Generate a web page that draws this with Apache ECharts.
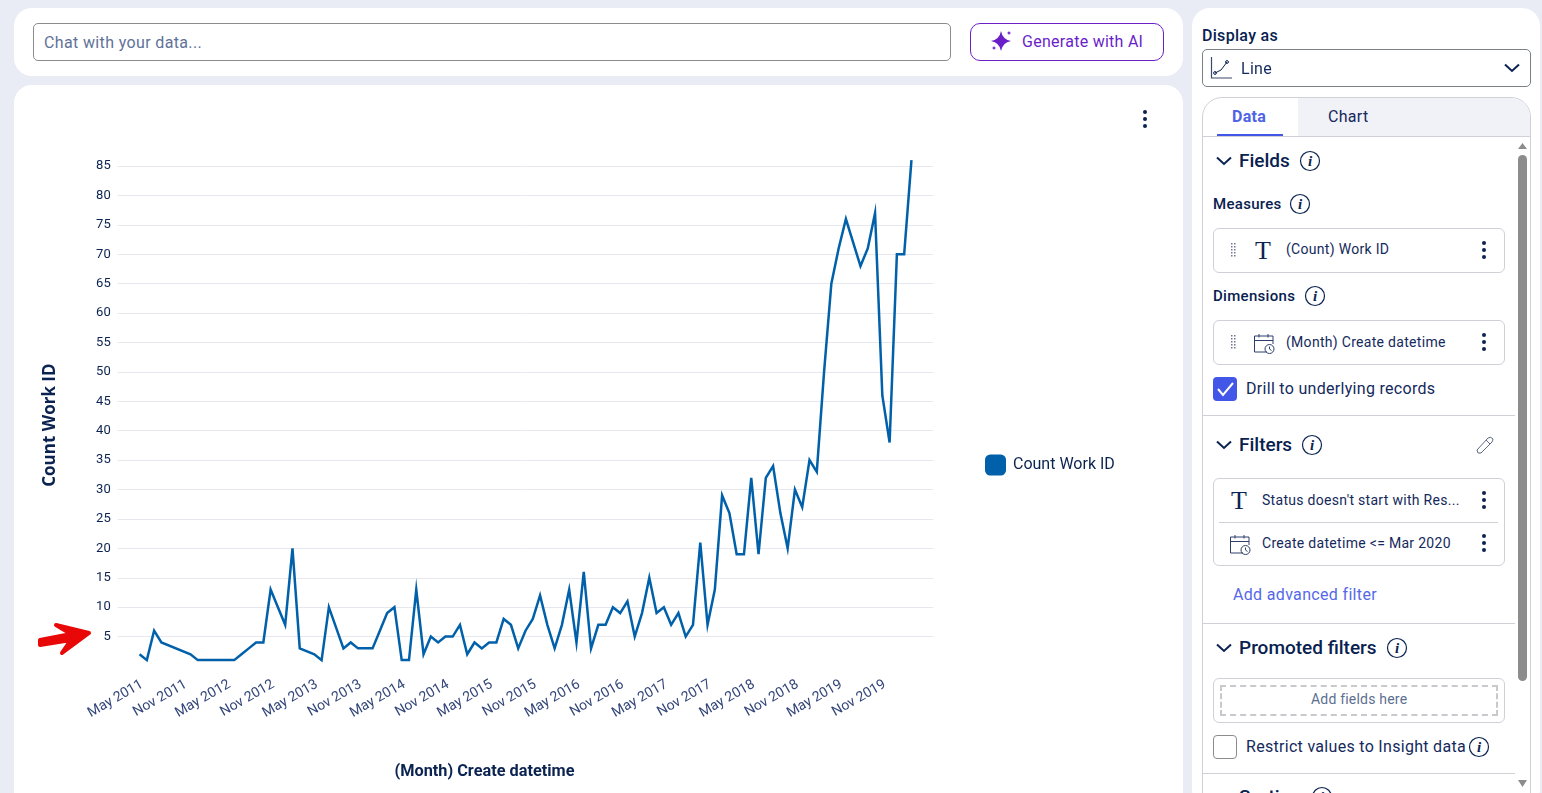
<!DOCTYPE html>
<html><head><meta charset="utf-8">
<script src="https://cdn.jsdelivr.net/npm/echarts@6/dist/echarts.min.js"></script>
<style>
html,body{margin:0;padding:0;width:1542px;height:793px;overflow:hidden;background:#e9ecf5;font-family:Roboto,sans-serif;color:#0b2350}
.a{position:absolute;box-sizing:border-box}
.t{position:absolute;white-space:nowrap;line-height:20px;transform:translateY(-50%);margin-top:1px}
.h{font-size:19px;font-weight:500;color:#08214f;margin-top:0}
.s{font-size:15px;font-weight:500;color:#08214f;letter-spacing:.3px;margin-top:0}
.n{font-size:14px;color:#14295c;letter-spacing:.3px;margin-top:0}
.b{font-size:16px;color:#14295c;letter-spacing:.3px}
.box{position:absolute;box-sizing:border-box;border:1px solid #cfd1d6;border-radius:6px;background:#fff}
.div{position:absolute;height:1px;background:#cfd1d6}
svg{position:absolute;overflow:visible}
</style></head><body>
<svg width="0" height="0" style="position:absolute"><defs>
<g id="keb" fill="#0b2350"><circle cx="0" cy="-7" r="2"/><circle cx="0" cy="0" r="2"/><circle cx="0" cy="7" r="2"/></g>
<g id="chev" fill="none" stroke="#0b2350" stroke-width="2"><path d="M-7,-3.5 L0,3 L7,-3.5"/></g>
<g id="info"><circle r="9.5" fill="none" stroke="#0b2350" stroke-width="1.2"/><text x="0" y="5" text-anchor="middle" font-family="Liberation Serif" font-style="italic" font-weight="700" font-size="15" fill="#0b2350">i</text></g>
<g id="cal" fill="none" stroke="#2c3f6b" stroke-width="1"><path d="M13,18 H0.5 V2 H19 V10 M0.5,6.5 H19 M5,0 V3.5 M14,0 V3.5"/><circle cx="15.5" cy="15" r="4.5"/><path d="M15.5,12.5 V15 L17.5,16.5"/></g>
<g id="drag" fill="#6d7890"><rect x="0" y="0" width="1.5" height="1.5"/><rect x="3" y="0" width="1.5" height="1.5"/><rect x="0" y="3" width="1.5" height="1.5"/><rect x="3" y="3" width="1.5" height="1.5"/><rect x="0" y="6" width="1.5" height="1.5"/><rect x="3" y="6" width="1.5" height="1.5"/><rect x="0" y="9" width="1.5" height="1.5"/><rect x="3" y="9" width="1.5" height="1.5"/><rect x="0" y="12" width="1.5" height="1.5"/><rect x="3" y="12" width="1.5" height="1.5"/></g>
</defs></svg>

<!-- top bar -->
<div class="a" style="left:14px;top:8px;width:1169px;height:68px;background:#fff;border-radius:18px"></div>
<div class="a" style="left:33px;top:23px;width:918px;height:38px;border:1px solid #8c8c8c;border-radius:5px"></div>
<div class="t" style="left:44px;top:42px;font-size:16px;color:#5f7299;letter-spacing:.36px">Chat with your data...</div>
<div class="a" style="left:970px;top:23px;width:194px;height:38px;border:1px solid #6a1fc9;border-radius:10px"></div>
<svg style="left:1001px;top:41px" width="1" height="1"><path fill="#6a1fc9" d="M0,-10 Q1.5,-1.5 10,0 Q1.5,1.5 0,10 Q-1.5,1.5 -10,0 Q-1.5,-1.5 0,-10Z M8,-10 Q8.4,-8.4 10,-8 Q8.4,-7.6 8,-6 Q7.6,-7.6 6,-8 Q7.6,-8.4 8,-10Z M-7,5 Q-6.7,6.7 -5,7 Q-6.7,7.3 -7,9 Q-7.3,7.3 -9,7 Q-7.3,6.7 -7,5Z"/></svg>
<div class="t" style="left:1022px;top:41px;font-size:16px;color:#6a1fc9;letter-spacing:.27px">Generate with AI</div>

<!-- chart card -->
<div class="a" style="left:14px;top:85px;width:1169px;height:730px;background:#fff;border-radius:18px"></div>
<div id="chart" class="a" style="left:14px;top:85px;width:1169px;height:708px"></div>
<svg style="left:1145px;top:119px" width="1" height="1"><use href="#keb"/></svg>
<svg style="left:0;top:0" width="1" height="1"><path fill="#e80808" stroke="#e80808" stroke-width="4" stroke-linejoin="round" d="M40,640 L71,634 L56,625 L89,633 L62,653 L71,640 L40,645Z"/></svg>

<!-- right panel -->
<div class="a" style="left:1192px;top:8px;width:348px;height:800px;background:#fff;border-radius:18px"></div>
<div class="t" style="left:1202px;top:35px;font-size:16px;font-weight:500;color:#08214f;letter-spacing:.3px">Display as</div>
<div class="a" style="left:1202px;top:49px;width:329px;height:38px;border:1px solid #7b8087;border-radius:5px"></div>
<svg style="left:1211px;top:57px" width="1" height="1"><path d="M0.5,0 V21 H21" fill="none" stroke="#3a4a6a" stroke-width="1.2"/><path d="M4,16 L10,13 L16,5" fill="none" stroke="#0b2350" stroke-width="1"/><circle cx="4" cy="16" r="1.4" fill="none" stroke="#0b2350"/><circle cx="16" cy="5" r="1.4" fill="none" stroke="#0b2350"/></svg>
<div class="t b" style="left:1241px;top:68px">Line</div>
<svg style="left:1512px;top:68px" width="1" height="1"><use href="#chev"/></svg>

<div class="a" style="left:1202px;top:97px;width:329px;height:720px;border:1px solid #cfd1d6;border-radius:20px;overflow:hidden;background:#fff">
 <div class="a" style="left:95px;top:0;width:234px;height:39px;background:#f1f2f8"></div>
 <div class="a" style="left:0;top:38px;width:329px;height:1px;background:#cfd1d6"></div>
 <div class="a" style="left:14px;top:36px;width:66px;height:2px;background:#4257e8"></div>
</div>
<div class="t" style="left:1232px;top:116px;font-size:16px;font-weight:700;color:#4f63e6;letter-spacing:.3px">Data</div>
<div class="t b" style="left:1328px;top:116px">Chart</div>

<!-- scrollbar -->
<div class="a" style="left:1518px;top:155px;width:9px;height:526px;background:#8c8c8c;border-radius:5px"></div>
<svg style="left:0;top:0" width="1" height="1"><path d="M1518,149 L1522.5,143 L1527,149Z M1518,780 L1522.5,787 L1527,780Z" fill="#8c8c8c"/></svg>

<!-- Fields -->
<svg style="left:1224px;top:161px" width="1" height="1"><use href="#chev"/></svg>
<div class="t h" style="left:1239px;top:161px">Fields</div>
<svg style="left:1310px;top:161px" width="1" height="1"><use href="#info"/></svg>
<div class="t s" style="left:1213px;top:204px">Measures</div>
<svg style="left:1300px;top:204px" width="1" height="1"><use href="#info"/></svg>
<div class="box" style="left:1213px;top:228px;width:292px;height:45px"></div>
<svg style="left:1231px;top:243px" width="1" height="1"><use href="#drag"/></svg>
<div class="t" style="left:1255px;top:250px;font-family:'Liberation Serif';font-size:26px;color:#0b2350">T</div>
<div class="t n" style="left:1286px;top:249px">(Count) Work ID</div>
<svg style="left:1484px;top:250px" width="1" height="1"><use href="#keb"/></svg>
<div class="t s" style="left:1213px;top:296px">Dimensions</div>
<svg style="left:1315px;top:296px" width="1" height="1"><use href="#info"/></svg>
<div class="box" style="left:1213px;top:320px;width:292px;height:45px"></div>
<svg style="left:1231px;top:335px" width="1" height="1"><use href="#drag"/></svg>
<svg style="left:1254px;top:334px" width="1" height="1"><use href="#cal"/></svg>
<div class="t n" style="left:1286px;top:342px">(Month) Create datetime</div>
<svg style="left:1484px;top:342px" width="1" height="1"><use href="#keb"/></svg>
<div class="a" style="left:1213px;top:377px;width:24px;height:24px;background:#4257e8;border-radius:4px"></div>
<svg style="left:1213px;top:377px" width="1" height="1"><path d="M5,12 L10,18 L20,6" fill="none" stroke="#fff" stroke-width="2"/></svg>
<div class="t b" style="left:1246px;top:388px">Drill to underlying records</div>
<div class="div" style="left:1203px;top:415px;width:312px"></div>

<!-- Filters -->
<svg style="left:1224px;top:445px" width="1" height="1"><use href="#chev"/></svg>
<div class="t h" style="left:1239px;top:445px">Filters</div>
<svg style="left:1312px;top:445px" width="1" height="1"><use href="#info"/></svg>
<svg style="left:1485px;top:445px" width="1" height="1"><path d="M-7,8 L-8,5 L3,-7 Q6,-9 8,-6 Q8,-5 7,-3 L-4,8Z M1,-5 L5,-1" fill="none" stroke="#5a6880" stroke-width="1"/></svg>
<div class="box" style="left:1213px;top:478px;width:292px;height:88px"></div>
<div class="t" style="left:1231px;top:500px;font-family:'Liberation Serif';font-size:26px;color:#0b2350">T</div>
<div class="t n" style="left:1262px;top:500px">Status doesn't start with Res...</div>
<svg style="left:1484px;top:500px" width="1" height="1"><use href="#keb"/></svg>
<div class="div" style="left:1219px;top:522px;width:279px"></div>
<svg style="left:1230px;top:535px" width="1" height="1"><use href="#cal"/></svg>
<div class="t n" style="left:1262px;top:543px">Create datetime &lt;= Mar 2020</div>
<svg style="left:1484px;top:543px" width="1" height="1"><use href="#keb"/></svg>
<div class="t" style="left:1233px;top:594px;font-size:16px;color:#5468e8;letter-spacing:.33px">Add advanced filter</div>
<div class="div" style="left:1203px;top:623px;width:312px"></div>

<!-- Promoted filters -->
<svg style="left:1224px;top:648px" width="1" height="1"><use href="#chev"/></svg>
<div class="t h" style="left:1239px;top:648px">Promoted filters</div>
<svg style="left:1397px;top:648px" width="1" height="1"><use href="#info"/></svg>
<div class="box" style="left:1213px;top:678px;width:292px;height:45px"></div>
<div class="a" style="left:1220px;top:685px;width:278px;height:31px;border:2px dashed #c8c9cc"></div>
<div class="t" style="left:1311px;top:698px;font-size:14px;color:#5c6f90;letter-spacing:.2px">Add fields here</div>
<div class="a" style="left:1213px;top:735px;width:24px;height:24px;border:1px solid #8c8c8c;border-radius:4px"></div>
<div class="t b" style="left:1246px;top:746px">Restrict values to Insight data</div>
<svg style="left:1479px;top:747px" width="1" height="1"><use href="#info"/></svg>
<div class="div" style="left:1203px;top:773px;width:312px"></div>
<div class="t h" style="left:1239px;top:797px">Sorting</div>
<svg style="left:1322px;top:797px" width="1" height="1"><use href="#info"/></svg>

<script>
// Chart data (May 2011 .. Mar 2020); null = no record that month
const startYear = 2011, startMonth = 4;
const monthNames = ["Jan","Feb","Mar","Apr","May","Jun","Jul","Aug","Sep","Oct","Nov","Dec"];
const countWorkId2011 = [2,1,6,4,null,null,null,2];
const countWorkId2012 = [1,null,null,null,null,1,2,3,4,4,13,10];
const countWorkId2013 = [7,20,3,null,2,1,10,null,3,4,3,3];
const countWorkId2014 = [3,6,9,10,1,1,13,2,5,4,5,5];
const countWorkId2015 = [7,2,4,3,4,4,8,7,3,6,8,12];
const countWorkId2016 = [7,3,7,13,4,16,3,7,7,10,9,11];
const countWorkId2017 = [5,9,15,9,10,7,9,5,7,21,7,13];
const countWorkId2018 = [29,26,19,19,32,19,32,34,26,20,30,27];
const countWorkId2019 = [35,33,50,65,71,76,72,68,71,77,46,38];
const countWorkId2020 = [70,70,86];
const counts = [].concat(countWorkId2011,countWorkId2012,countWorkId2013,countWorkId2014,countWorkId2015,
  countWorkId2016,countWorkId2017,countWorkId2018,countWorkId2019,countWorkId2020);
const seriesName = "Count Work ID";
const xAxisName = "(Month) Create datetime";
const pad = 3;
const categories = [];
for (let i = 0; i < pad; i++) categories.push("");
counts.forEach((_, i) => {
  const m = startMonth + i;
  categories.push(monthNames[m % 12] + " " + (startYear + Math.floor(m / 12)));
});
for (let i = 0; i < pad; i++) categories.push("");
const values = [];
for (let i = 0; i < pad; i++) values.push(null);
counts.forEach(v => values.push(v));
for (let i = 0; i < pad; i++) values.push(null);

const navy = "#0b2350";
const chart = echarts.init(document.getElementById("chart"));
chart.setOption({
  animation: false,
  grid: {left: 103.7, right: 249.7, top: 75.2, bottom: 127, containLabel: false},
  legend: {
    show: true, left: 971, top: 369.5, padding: 0, orient: "vertical", icon: "roundRect",
    itemWidth: 21, itemHeight: 21, itemGap: 7,
    textStyle: {fontFamily: "Roboto", fontSize: 16, color: navy, padding: [2,0,0,2]},
    data: [seriesName]
  },
  xAxis: {
    type: "category", boundaryGap: false, data: categories,
    name: xAxisName, nameLocation: "middle", nameGap: 98,
    nameTextStyle: {fontFamily: "Roboto", fontSize: 16.3, fontWeight: 700, color: navy, padding: [0, 82, 0, 0]},
    axisLine: {show: false}, axisTick: {show: false}, splitLine: {show: false},
    axisLabel: {
      rotate: 30, margin: 19, fontFamily: "Roboto", fontSize: 14, color: "#33467a",
      padding: [0, -3, 0, 0],
      interval: (i) => i >= pad && (i - pad) % 6 === 0
    }
  },
  yAxis: {
    type: "value", min: 0, max: 86, interval: 5,
    name: seriesName, nameLocation: "middle", nameGap: 59, nameRotate: 90,
    nameTextStyle: {fontFamily: "Open Sans", fontSize: 17, fontWeight: 700, color: navy, padding: [0, 0, 0, -24]},
    axisLine: {show: false}, axisTick: {show: false},
    splitLine: {show: true, showMinLine: false, showMaxLine: false, lineStyle: {color: "#e6e8ee", width: 1}},
    axisLabel: {showMinLabel: false, showMaxLabel: false, margin: 7, padding: [4,0,0,0], fontFamily: "Roboto", fontSize: 13, color: navy}
  },
  series: [{
    name: seriesName, type: "line", data: values, connectNulls: true,
    showSymbol: false, symbol: "none", clip: false, smooth: false,
    itemStyle: {color: "#0060a9"},
    lineStyle: {color: "#0060a9", width: 2.5, join: "miter"}
  }]
});
</script>
</body></html>
